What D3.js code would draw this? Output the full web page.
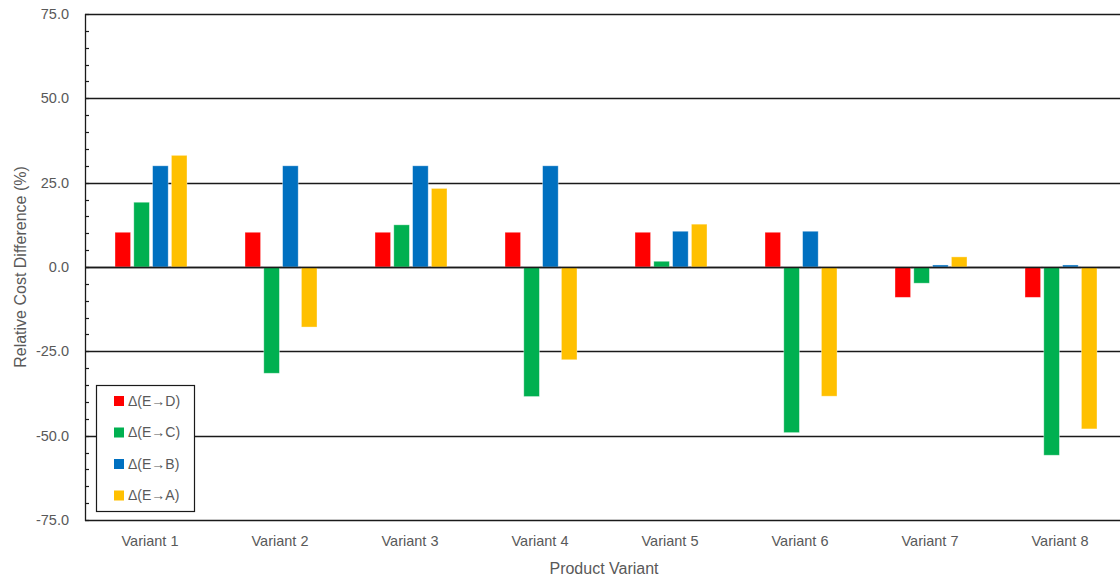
<!DOCTYPE html>
<html>
<head>
<meta charset="utf-8">
<script src="https://cdn.jsdelivr.net/npm/d3@7"></script>
<style>
  html, body { margin: 0; padding: 0; background: #fff; }
  svg { display: block; }
  text { font-family: "Liberation Sans", Arial, sans-serif; fill: #595959; }
</style>
</head>
<body>
<svg id="chart" width="1120" height="580"></svg>
<script>
// Product variants along the x axis
const categories = ["Variant 1", "Variant 2", "Variant 3", "Variant 4",
                    "Variant 5", "Variant 6", "Variant 7", "Variant 8"];

// Series names and values (% relative cost difference)
const seriesNames = ["Δ(E→D)", "Δ(E→C)", "Δ(E→B)", "Δ(E→A)"];
const deltaED = [10.3, 10.3, 10.3, 10.3, 10.3, 10.3, -9.0, -9.0];
const deltaEC = [19.2, -31.5, 12.5, -38.4, 1.7, -49.1, -4.8, -55.8];
const deltaEB = [30.0, 30.0, 30.0, 30.0, 10.6, 10.6, 0.6, 0.6];
const deltaEA = [33.1, -17.8, 23.3, -27.5, 12.7, -38.3, 3.0, -48.0];
const seriesColors = ["#FF0000", "#00B050", "#0070C0", "#FFC000"];

// Axis ticks
const yTicks = [75, 50, 25, 0, -25, -50, -75];
const yMinorTicks = d3.range(-75, 75.01, 5);

const seriesValues = [deltaED, deltaEC, deltaEB, deltaEA];

const svg = d3.select("#chart");
const plot = { left: 85, right: 1125, top: 14, bottom: 520 };

const x = d3.scaleBand().domain(categories).range([plot.left, plot.right]).padding(0);
const inner = d3.scaleBand().domain(d3.range(seriesNames.length))
  .range([-35, 37]).paddingInner(0.17);
const y = d3.scaleLinear().domain([-75, 75]).range([plot.bottom, plot.top]);

// Tick labels use a plain hyphen for negatives
const fmt = d => d.toFixed(1);

// Horizontal gridlines
svg.append("g").selectAll("line").data(yTicks).join("line")
  .attr("x1", plot.left).attr("x2", plot.right)
  .attr("y1", d => Math.round(y(d)) + 0.5).attr("y2", d => Math.round(y(d)) + 0.5)
  .attr("stroke", "#1a1a1a").attr("stroke-width", 1.3);

// Bars
const groups = svg.append("g").selectAll("g").data(categories).join("g")
  .attr("transform", d => `translate(${x(d) + x.bandwidth() / 2},0)`);

groups.selectAll("rect")
  .data((c, i) => seriesValues.map((vals, s) => ({ s, v: vals[i] })))
  .join("rect")
  .attr("x", d => inner(d.s))
  .attr("width", inner.bandwidth())
  .attr("y", d => Math.min(y(d.v), y(0)))
  .attr("height", d => Math.abs(y(d.v) - y(0)))
  .attr("fill", d => seriesColors[d.s])
  .attr("stroke", "rgba(255,255,255,0.45)")
  .attr("stroke-width", 0.8);

// Zero line over the bars
svg.append("line")
  .attr("x1", plot.left).attr("x2", plot.right)
  .attr("y1", Math.round(y(0)) + 0.5).attr("y2", Math.round(y(0)) + 0.5)
  .attr("stroke", "#1a1a1a").attr("stroke-width", 1.3);

// Left axis with minor ticks
const yAxis = svg.append("g").attr("transform", `translate(${plot.left},0)`);
yAxis.append("line")
  .attr("x1", 0.5).attr("x2", 0.5).attr("y1", plot.top).attr("y2", plot.bottom + 1)
  .attr("stroke", "#1a1a1a").attr("stroke-width", 1.3);
yAxis.selectAll("line.minor").data(yMinorTicks).join("line")
  .attr("class", "minor")
  .attr("x1", 0).attr("x2", 4)
  .attr("y1", d => Math.round(y(d)) + 0.5).attr("y2", d => Math.round(y(d)) + 0.5)
  .attr("stroke", "#1a1a1a").attr("stroke-width", 1.2);
yAxis.selectAll("text").data(yTicks).join("text")
  .attr("x", -16).attr("y", d => y(d))
  .attr("dy", "0.35em").attr("text-anchor", "end")
  .style("font-size", "14.5px")
  .text(fmt);

// Category labels
svg.append("g").selectAll("text").data(categories).join("text")
  .attr("x", d => x(d) + x.bandwidth() / 2).attr("y", 546)
  .attr("text-anchor", "middle").style("font-size", "14.5px")
  .text(d => d);

// Axis titles
svg.append("text")
  .attr("x", (plot.left + plot.right) / 2 - 1).attr("y", 574)
  .attr("text-anchor", "middle").style("font-size", "16px")
  .text("Product Variant");
svg.append("text")
  .attr("transform", `translate(26,${(plot.top + plot.bottom) / 2}) rotate(-90)`)
  .attr("text-anchor", "middle").style("font-size", "16px")
  .text("Relative Cost Difference (%)");

// Legend
const legend = svg.append("g").attr("transform", "translate(96,385)");
legend.append("rect")
  .attr("x", 0.5).attr("y", 0.5).attr("width", 98).attr("height", 126)
  .attr("fill", "#fff").attr("stroke", "#1a1a1a").attr("stroke-width", 1.2);
const items = legend.selectAll("g.item").data(seriesNames).join("g")
  .attr("class", "item")
  .attr("transform", (d, i) => `translate(18,${16 + i * 31.5})`);
items.append("rect")
  .attr("x", 0).attr("y", -5).attr("width", 10).attr("height", 10)
  .attr("fill", (d, i) => seriesColors[i]);
items.append("text")
  .attr("x", 14).attr("y", 0).attr("dy", "0.35em")
  .style("font-size", "14px")
  .text(d => d);
</script>
</body>
</html>
